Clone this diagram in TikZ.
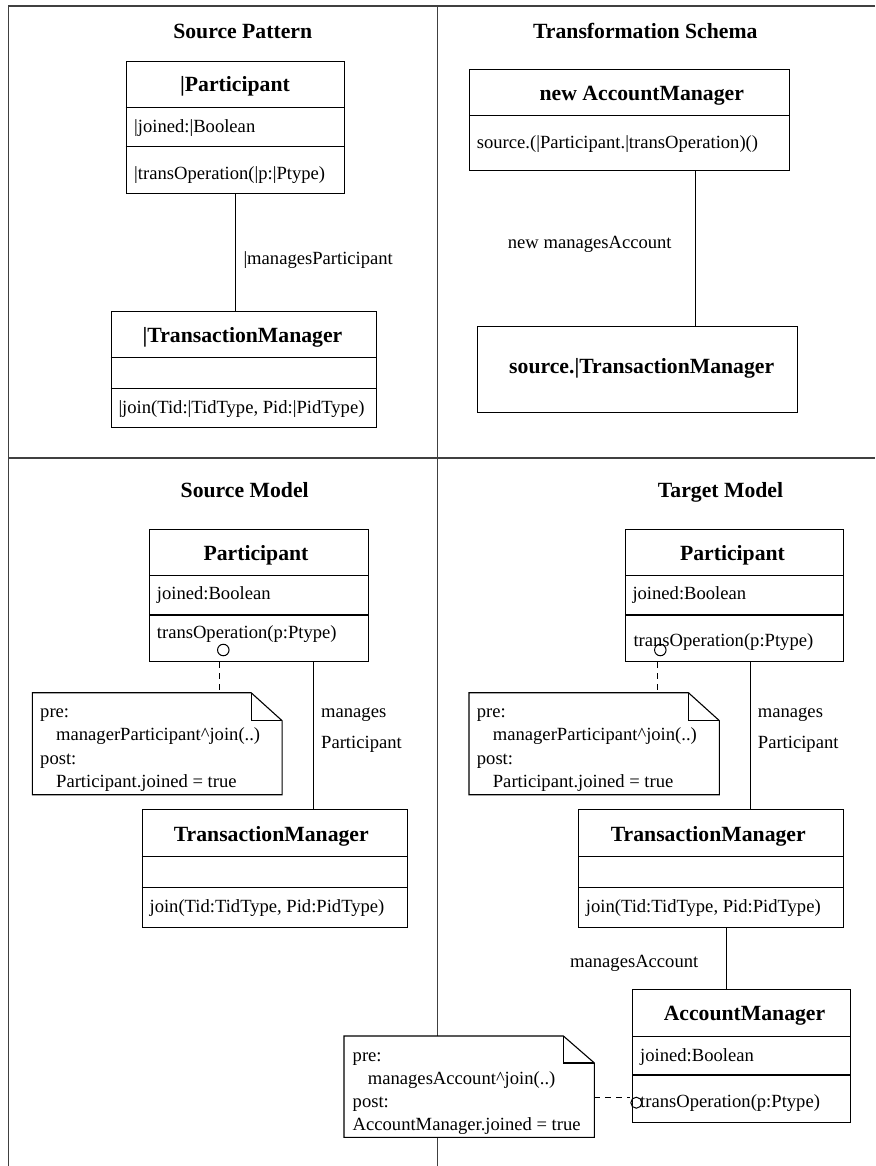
\documentclass[tikz,border=0pt]{standalone}
\usepackage{fontspec}
\setmainfont{Liberation Serif}
\newcommand\regf{\fontsize{18.6pt}{23.3pt}\selectfont}
\newcommand\bldf{\fontsize{21.7pt}{26pt}\selectfont\bfseries}
\begin{document}
\begin{tikzpicture}[x=1pt,y=-1pt,
  frame/.style={line width=1.4pt, black!75},
  cls/.style={draw, line width=1.1pt, anchor=north west, inner sep=0pt, fill=white},
  sepl/.style={line width=1.1pt},
  txt/.style={anchor=west, inner sep=0pt, text height=17pt, text depth=4pt, font=\regf},
  ttl/.style={anchor=center, inner sep=0pt, text height=19pt, text depth=5pt, font=\bldf},
  assoc/.style={line width=1.1pt},
  dep/.style={line width=1.1pt, dash pattern=on 6pt off 5pt},
  port/.style={draw, circle, line width=1pt, minimum size=11.5pt, inner sep=0pt},
  notebg/.style={anchor=north west, inner sep=0pt, fill=white}
]
\useasboundingbox (0,0) rectangle (875,1166);

% frame
\draw[frame] (8.5,1166) -- (8.5,6) -- (875,6);
\draw[frame] (8.5,458) -- (875,458);
\draw[frame] (437.7,6) -- (437.7,1166);

% ---------------- Source Pattern ----------------
\node[ttl] (tSP) at (242.7,31.7) {Source Pattern};
\node[cls, minimum width=218.6pt, minimum height=132.3pt] (spP) at (125.7,61) {};
\draw[sepl] ([yshift=-46.7pt]spP.north west) -- ([yshift=-46.7pt]spP.north east);
\draw[sepl] ([yshift=-85.7pt]spP.north west) -- ([yshift=-85.7pt]spP.north east);
\node[ttl] (spPn) at (235,85) {|Participant};
\node[txt] (spPa) at (134,125.7) {|joined:|Boolean};
\node[txt] (spPo) at (134,172.7) {|transOperation(|p:|Ptype)};

\node[cls, minimum width=265pt, minimum height=116.6pt] (spT) at (110.7,310.7) {};
\draw[sepl] ([yshift=-47pt]spT.north west) -- ([yshift=-47pt]spT.north east);
\draw[sepl] ([yshift=-77.6pt]spT.north west) -- ([yshift=-77.6pt]spT.north east);
\node[ttl] (spTn) at (242.5,335) {|TransactionManager};
\node[txt] (spTo) at (118.3,406.7) {|join(Tid:|TidType, Pid:|PidType)};

\draw[assoc] (spP.south) -- (spP.south |- spT.north);
\node[txt] (spL) at (243.3,258.3) {|managesParticipant};

% ---------------- Transformation Schema ----------------
\node[ttl] (tTS) at (645.3,31.7) {Transformation Schema};
\node[cls, minimum width=319.7pt, minimum height=101.3pt] (tsA) at (469.3,68.7) {};
\draw[sepl] ([yshift=-47pt]tsA.north west) -- ([yshift=-47pt]tsA.north east);
\node[ttl] (tsAn) at (641.8,93.3) {new AccountManager};
\node[txt] (tsAo) at (476.7,141.7) {source.(|Participant.|transOperation)()};

\node[cls, minimum width=320pt, minimum height=85.7pt] (tsT) at (476.7,326) {};
\node[ttl] (tsTn) at (641.7,366.7) {source.|TransactionManager};

\draw[assoc] ([xshift=66.2pt]tsA.south) -- ([xshift=66.2pt]tsA.south |- tsT.north);
\node[txt] (tsL) at (507.7,242.3) {new managesAccount};

% ---------------- Source Model ----------------
\node[ttl] (tSM) at (244.7,490.7) {Source Model};
\node[cls, minimum width=218.7pt, minimum height=132.3pt] (smP) at (149,529) {};
\draw[sepl] ([yshift=-46.7pt]smP.north west) -- ([yshift=-46.7pt]smP.north east);
\draw[sepl] ([yshift=-86pt]smP.north west) -- ([yshift=-86pt]smP.north east);
\node[ttl] (smPn) at (256,553) {Participant};
\node[txt] (smPa) at (156.7,592.7) {joined:Boolean};
\node[txt] (smPo) at (156.7,632.3) {transOperation(p:Ptype)};
\node[port] (smC) at (223.3,650) {};

\node[notebg, minimum width=249.4pt, minimum height=101.6pt] (smN) at (32.3,692.7) {};
\draw[sepl] (smN.north west) -- ([xshift=-31pt]smN.north east) -- ([yshift=-28pt]smN.north east) -- (smN.south east) -- (smN.south west) -- cycle;
\draw[sepl] ([xshift=-31pt]smN.north east) |- ([yshift=-28pt]smN.north east);
\node[txt] (smN1) at (40,711) {pre:};
\node[txt] (smN2) at (56,734.3) {managerParticipant\textasciicircum join(..)};
\node[txt] (smN3) at (40,757.7) {post:};
\node[txt] (smN4) at (56,781) {Participant.joined = true};
\draw[dep] ([xshift=-39pt]smP.south) -- ([xshift=-39pt]smP.south |- smN.north);

\node[cls, minimum width=265pt, minimum height=117.4pt] (smT) at (141.7,809.3) {};
\draw[sepl] ([yshift=-47pt]smT.north west) -- ([yshift=-47pt]smT.north east);
\draw[sepl] ([yshift=-78pt]smT.north west) -- ([yshift=-78pt]smT.north east);
\node[ttl] (smTn) at (271.3,834) {TransactionManager};
\node[txt] (smTo) at (149.4,906) {join(Tid:TidType, Pid:PidType)};

\draw[assoc] ([xshift=55pt]smP.south) -- ([xshift=55pt]smP.south |- smT.north);
\node[txt] (smL1) at (321,711) {manages};
\node[txt] (smL2) at (321,742.3) {Participant};

% ---------------- Target Model ----------------
\node[ttl] (tTM) at (720.5,490.7) {Target Model};
\node[cls, minimum width=218.3pt, minimum height=132.3pt] (tmP) at (625,529) {};
\draw[sepl] ([yshift=-46.7pt]tmP.north west) -- ([yshift=-46.7pt]tmP.north east);
\draw[sepl] ([yshift=-86pt]tmP.north west) -- ([yshift=-86pt]tmP.north east);
\node[ttl] (tmPn) at (732.5,553) {Participant};
\node[txt] (tmPa) at (632.3,592.7) {joined:Boolean};
\node[txt] (tmPo) at (633.3,640) {transOperation(p:Ptype)};
\node[port] (tmC) at (660.3,650) {};

\node[notebg, minimum width=250pt, minimum height=101.6pt] (tmN) at (469,692.7) {};
\draw[sepl] (tmN.north west) -- ([xshift=-31pt]tmN.north east) -- ([yshift=-28pt]tmN.north east) -- (tmN.south east) -- (tmN.south west) -- cycle;
\draw[sepl] ([xshift=-31pt]tmN.north east) |- ([yshift=-28pt]tmN.north east);
\node[txt] (tmN1) at (476.7,711) {pre:};
\node[txt] (tmN2) at (492.7,734.3) {managerParticipant\textasciicircum join(..)};
\node[txt] (tmN3) at (476.7,757.7) {post:};
\node[txt] (tmN4) at (492.7,781) {Participant.joined = true};
\draw[dep] ([xshift=-77.4pt]tmP.south) -- ([xshift=-77.4pt]tmP.south |- tmN.north);

\node[cls, minimum width=265pt, minimum height=117.4pt] (tmT) at (578.3,809.3) {};
\draw[sepl] ([yshift=-47pt]tmT.north west) -- ([yshift=-47pt]tmT.north east);
\draw[sepl] ([yshift=-78pt]tmT.north west) -- ([yshift=-78pt]tmT.north east);
\node[ttl] (tmTn) at (708.3,834) {TransactionManager};
\node[txt] (tmTo) at (585.7,906) {join(Tid:TidType, Pid:PidType)};

\draw[assoc] ([xshift=15.8pt]tmP.south) -- ([xshift=15.8pt]tmP.south |- tmT.north);
\node[txt] (tmL1) at (757.7,711) {manages};
\node[txt] (tmL2) at (757.7,742.3) {Participant};

\node[cls, minimum width=218pt, minimum height=132.7pt] (tmA) at (632,989) {};
\draw[sepl] ([yshift=-47.7pt]tmA.north west) -- ([yshift=-47.7pt]tmA.north east);
\draw[sepl] ([yshift=-86pt]tmA.north west) -- ([yshift=-86pt]tmA.north east);
\node[ttl] (tmAn) at (744.5,1013) {AccountManager};
\node[txt] (tmAa) at (640,1055) {joined:Boolean};
\node[txt] (tmAo) at (640,1101) {transOperation(p:Ptype)};
\node[port, minimum size=11pt] (tmAC) at (636.3,1102.7) {};

\draw[assoc] ([xshift=14.8pt]tmT.south) -- ([xshift=14.8pt]tmT.south |- tmA.north);
\node[txt] (tmL3) at (570,961) {managesAccount};

\node[notebg, minimum width=250pt, minimum height=101pt] (amN) at (344,1036) {};
\draw[sepl] (amN.north west) -- ([xshift=-31pt]amN.north east) -- ([yshift=-27pt]amN.north east) -- (amN.south east) -- (amN.south west) -- cycle;
\draw[sepl] ([xshift=-31pt]amN.north east) |- ([yshift=-27pt]amN.north east);
\node[txt] (amN1) at (352.5,1055) {pre:};
\node[txt] (amN2) at (367.7,1077.5) {managesAccount\textasciicircum join(..)};
\node[txt] (amN3) at (352.5,1101) {post:};
\node[txt] (amN4) at (352.5,1124) {AccountManager.joined = true};
\draw[dep] ([yshift=-11.2pt]amN.east) -- ([yshift=-11.2pt]amN.east -| tmAC.west);

\end{tikzpicture}
\end{document}
